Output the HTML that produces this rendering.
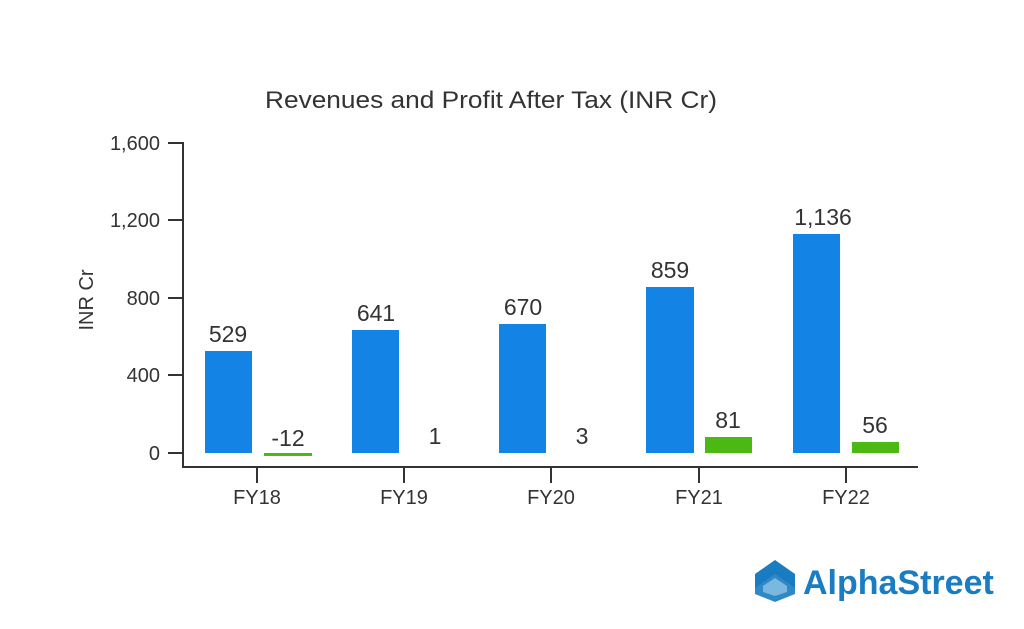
<!DOCTYPE html>
<html><head><meta charset="utf-8"><style>
body{margin:0;background:#fff;}
text{font-family:"Liberation Sans",sans-serif;fill:#333;}
</style></head><body>
<svg width="1024" height="624" xmlns="http://www.w3.org/2000/svg">
<text x="491" y="108" font-size="24" text-anchor="middle" textLength="452" lengthAdjust="spacingAndGlyphs">Revenues and Profit After Tax (INR Cr)</text>
<text transform="translate(93,300) rotate(-90)" font-size="20" text-anchor="middle">INR Cr</text>
<g stroke="#333" stroke-width="2" fill="none">
<line x1="183" y1="142" x2="183" y2="467"/>
<line x1="182" y1="467" x2="918" y2="467"/>
<line x1="168" y1="143" x2="183" y2="143"/>
<line x1="168" y1="220" x2="183" y2="220"/>
<line x1="168" y1="298" x2="183" y2="298"/>
<line x1="168" y1="375" x2="183" y2="375"/>
<line x1="168" y1="453" x2="183" y2="453"/>
<line x1="257" y1="467" x2="257" y2="483"/>
<line x1="404" y1="467" x2="404" y2="483"/>
<line x1="551" y1="467" x2="551" y2="483"/>
<line x1="699" y1="467" x2="699" y2="483"/>
<line x1="846" y1="467" x2="846" y2="483"/>
</g>
<g font-size="20" text-anchor="end">
<text x="160" y="150">1,600</text><text x="160" y="227">1,200</text><text x="160" y="305">800</text><text x="160" y="382">400</text><text x="160" y="460">0</text>
</g>
<g font-size="20" text-anchor="middle">
<text x="257" y="504">FY18</text><text x="404" y="504">FY19</text><text x="551" y="504">FY20</text><text x="699" y="504">FY21</text><text x="846" y="504">FY22</text>
</g>
<g fill="#1384e6">
<rect x="205" y="351" width="47" height="102"/>
<rect x="352" y="330" width="47" height="123"/>
<rect x="499" y="324" width="47" height="129"/>
<rect x="646" y="287" width="48" height="166"/>
<rect x="793" y="234" width="47" height="219"/>
</g>
<g fill="#4cb814">
<rect x="264" y="453" width="48" height="3"/>
<rect x="705" y="437" width="47" height="16"/>
<rect x="852" y="442" width="47" height="11"/>
</g>
<g font-size="23" text-anchor="middle">
<text x="228" y="342">529</text><text x="376" y="321">641</text><text x="523" y="315">670</text><text x="670" y="278">859</text><text x="823" y="225">1,136</text>
<text x="288" y="446">-12</text><text x="435" y="444">1</text><text x="582" y="444">3</text><text x="728" y="428">81</text><text x="875" y="433">56</text>
</g>
<g transform="translate(755,560)">
<polygon points="0,14 20,0 40,14 40,28 20,14 0,28" fill="#1a7cc1"/>
<polygon points="0,22 20,8 40,22 40,34 20,42 0,34" fill="#1a7cc1" opacity="0.9"/>
<polygon points="8,26 20,18 32,26 32,32 20,36 8,32" fill="#7ab8e0"/>
</g>
<text x="803" y="594" font-size="34" font-weight="bold" style="fill:#1a7cc1">AlphaStreet</text>
</svg>
</body></html>
